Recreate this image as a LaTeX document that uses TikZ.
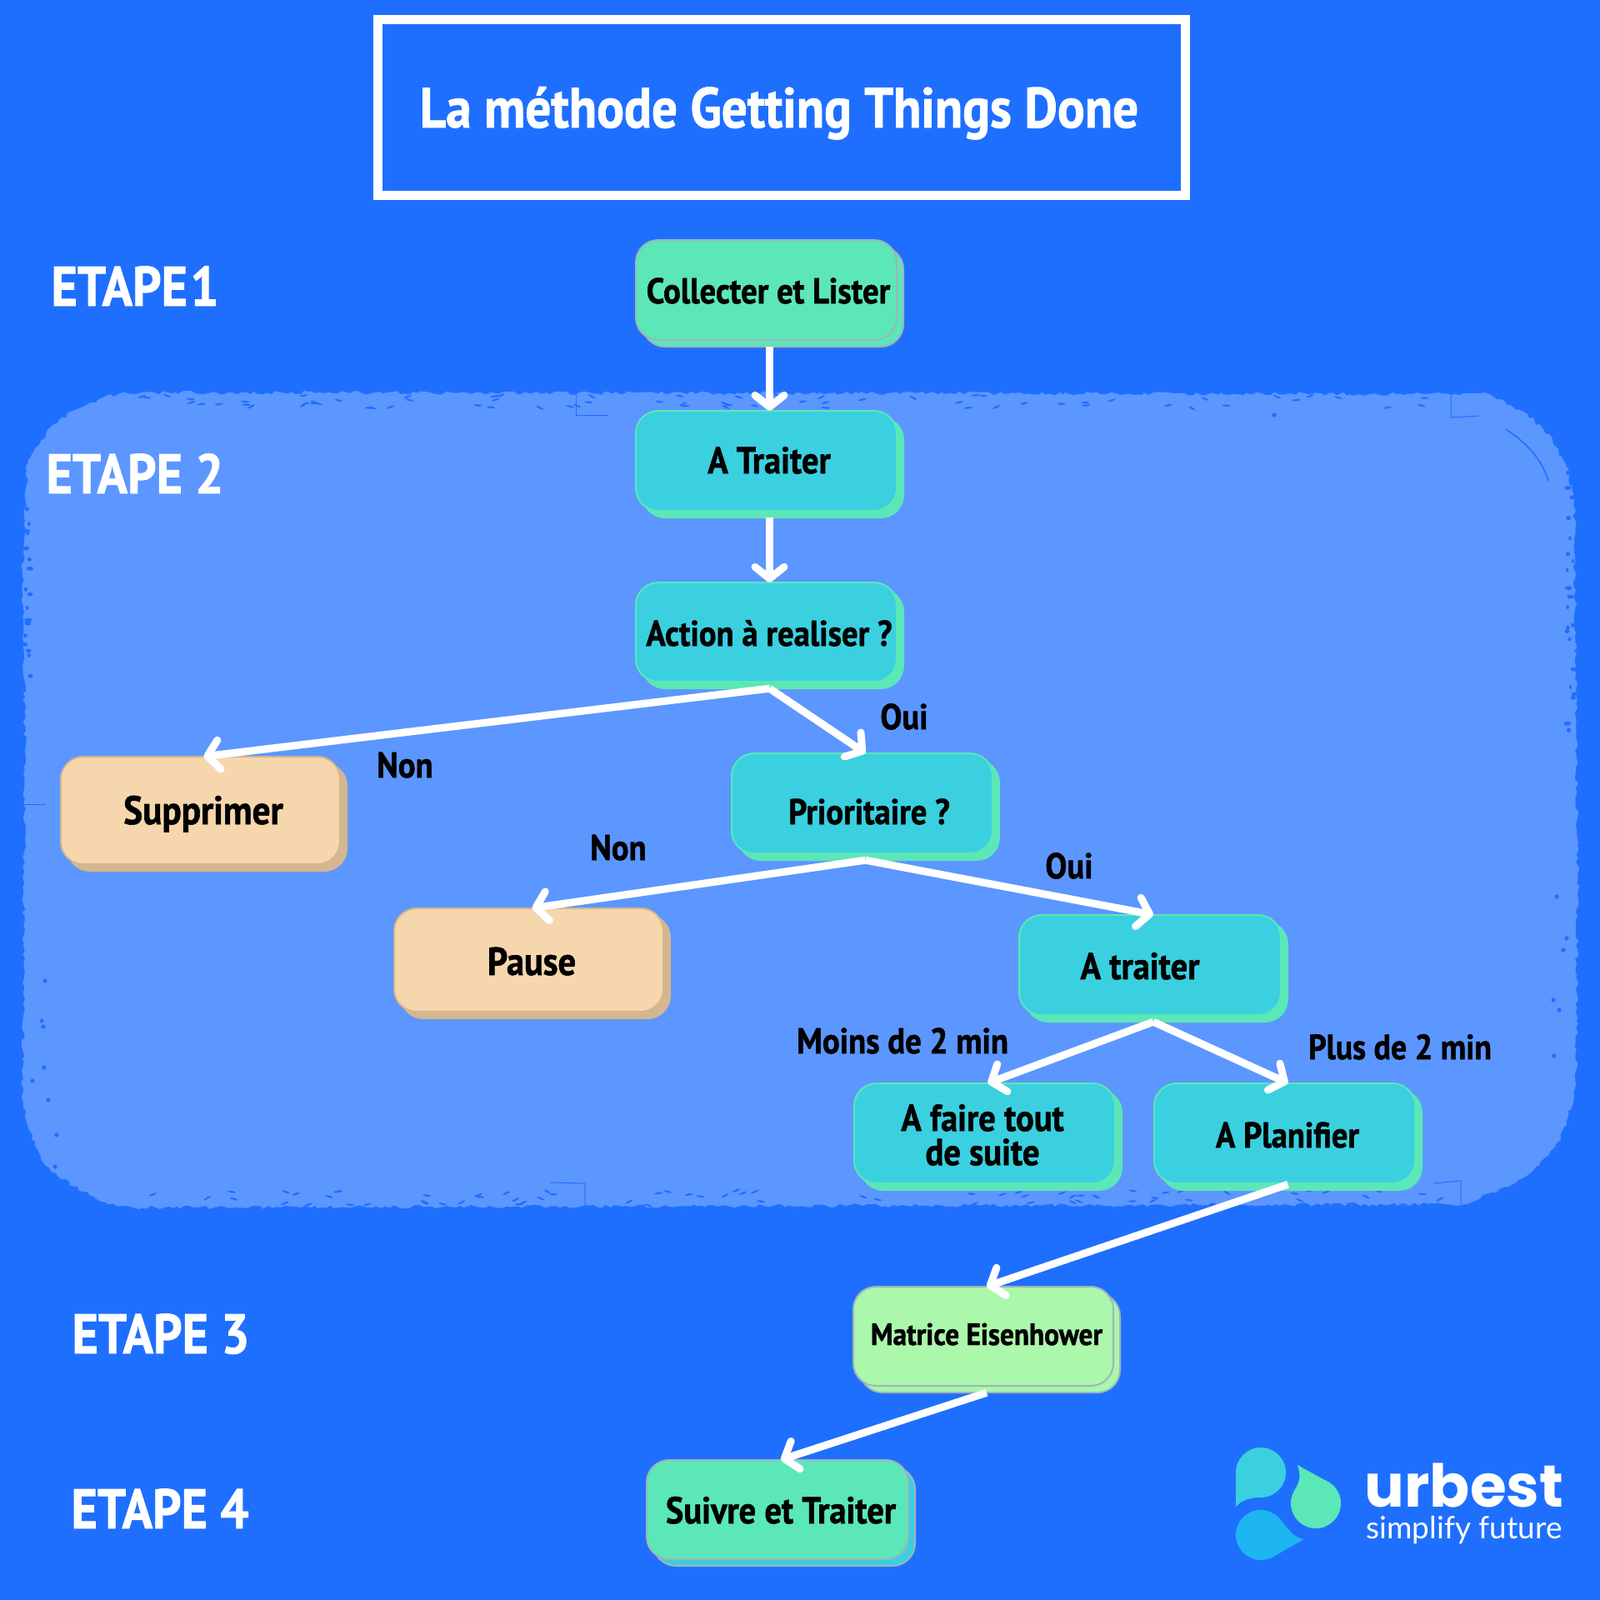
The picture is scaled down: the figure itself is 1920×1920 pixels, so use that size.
\documentclass[tikz,border=0pt]{standalone}
\usepackage{fontspec}
\usetikzlibrary{arrows.meta,fit,decorations.pathmorphing,calc}
\newfontfamily\hfont{PT Sans Bold}[FakeStretch=0.9,FakeBold=1.2]
\newfontfamily\logoA{Poppins}[UprightFont=*,BoldFont=* Bold]
\newfontfamily\logoB{Lato}
\definecolor{bgblue}{HTML}{1F6FFF}
\definecolor{blob}{HTML}{5C96FF}
\definecolor{mint}{HTML}{5BE7B7}
\definecolor{teal}{HTML}{3AD0E0}
\definecolor{peach}{HTML}{F6D6AC}
\definecolor{tan}{HTML}{D4B68F}
\definecolor{lime}{HTML}{ABF7AB}
\definecolor{edgegrey}{HTML}{9DB5BA}
\definecolor{skyb}{HTML}{1DB6F0}
\tikzset{
  x=1pt,y=-1pt,
  cardshape/.style={rectangle,inner sep=0pt,rounded corners=27pt,line width=2pt},
  teal back/.style={cardshape,draw=mint,fill=mint},
  teal front/.style={cardshape,draw=mint,fill=teal},
  peach back/.style={cardshape,draw=tan,fill=tan},
  peach front/.style={cardshape,draw=tan,fill=peach},
  mint back/.style={cardshape,draw=edgegrey,fill=mint},
  mint front/.style={cardshape,draw=edgegrey,fill=mint},
  lime back/.style={cardshape,draw=edgegrey,fill=lime},
  lime front/.style={cardshape,draw=edgegrey,fill=lime},
  sky back/.style={cardshape,draw=edgegrey,fill=teal},
  lab/.style={anchor=base,inner sep=0pt,text=black,font=\hfont\fontsize{#1}{#1}\selectfont},
  lab/.default=43,
  stage/.style={anchor=base,inner sep=0pt,text=white,font=\hfont\fontsize{67}{67}\selectfont},
  link/.style={draw=white,line width=9pt,-{Straight Barb[length=14pt,width=35pt,round,line width=9pt]}},
  speck/.style={fill=bgblue},
}
% name, x0, y0, x1, y1, back style, front style
\newcommand{\flowbox}[7]{%
  \node[#6,fit={({#2+8},{#3+8})({#4+8},{#5+8})}] (#1-back) {};
  \node[#7,fit={(#2,#3)(#4,#5)}] (#1-front) {};
  \node[inner sep=0pt,fit={(#2,#3)({#4+8},{#5+8})}] (#1) {};
}
\begin{document}
\begin{tikzpicture}
\useasboundingbox (0,0) rectangle (1920,1920);
\fill[bgblue] (0,0) rectangle (1920,1920);

% rough panel
\fill[blob,decorate,decoration={random steps,segment length=5pt,amplitude=2.2pt}]
  (150,471) -- (1787,473) -- (1833,497) -- (1863,527) -- (1880,560) -- (1889,600)
  -- (1893,1050) -- (1891,1300) -- (1880,1350) -- (1867,1375) -- (1843,1400) -- (1817,1420)
  -- (1757,1445) -- (160,1449) -- (130,1445) -- (100,1430) -- (70,1412) -- (52,1395)
  -- (42,1375) -- (30,1340) -- (27,1320) -- (30,900) -- (27,700) -- (33,557) -- (43,537)
  -- (63,510) -- (90,492) -- (123,477) -- cycle;
% worn specks along the panel rim
\pgfmathsetseed{7}
\foreach \i in {1,...,70}{
  \pgfmathsetmacro{\px}{170+rnd*1560}
  \pgfmathsetmacro{\py}{474+rnd*16}
  \pgfmathsetmacro{\pr}{rnd*60-30}
  \fill[speck,rotate around={\pr:(\px,\py)}] (\px,\py) ellipse [x radius=5pt,y radius=1.2pt];
  \pgfmathsetmacro{\qx}{170+rnd*1560}
  \pgfmathsetmacro{\qy}{1428+rnd*19}
  \pgfmathsetmacro{\qr}{rnd*60-30}
  \fill[speck,rotate around={\qr:(\qx,\qy)}] (\qx,\qy) ellipse [x radius=5pt,y radius=1.2pt];
}
\foreach \i in {1,...,22}{
  \pgfmathsetmacro{\px}{27+rnd*10}
  \pgfmathsetmacro{\py}{560+rnd*400}
  \pgfmathsetmacro{\pw}{1.5+rnd*3}
  \fill[speck] (\px,\py) ellipse [x radius=\pw pt,y radius=2.5pt];
  \pgfmathsetmacro{\qx}{1880+rnd*10}
  \pgfmathsetmacro{\qy}{565+rnd*330}
  \pgfmathsetmacro{\qw}{1.5+rnd*3}
  \fill[speck] (\qx,\qy) ellipse [x radius=\qw pt,y radius=2.5pt];
}
\foreach \cx/\cy in {54/1177,50/1225,52/1232,53/1281,39/1297,58/1320,68/1362,66/1400,1529/498,1868/1076,1880/1126,1876/1140,1865/1267,1864/1200,1871/1212}{
  \fill[speck] (\cx,\cy) circle [radius=2.6pt];
}
\draw[bgblue,line width=1pt] (1741,473) -- (1741,501) -- (1775,499);
\draw[bgblue,line width=1pt] (1753,1445) -- (1753,1417) -- (1720,1420);
\draw[bgblue,line width=1pt] (691,474) -- (691,498) -- (730,498);
\draw[bgblue,line width=1pt] (702,1447) -- (702,1420) -- (660,1419);
\draw[bgblue,line width=1pt] (55,965) -- (27,965);
\draw[bgblue,line width=1.5pt] (1807,515) .. controls (1830,530) and (1850,550) .. (1858,577);

% title
\node[draw=white,line width=11pt,inner sep=0pt,minimum width=969pt,minimum height=211pt] (titlebox) at (937.5,128.5) {};
\node[lab=68,text=white] (title) at (935,153) {La méthode Getting Things Done};

% stages
\node[stage] (etape1) at (162,367) {ETAPE\kern-12pt\ 1};
\node[stage] (etape2) at (162,592) {ETAPE 2};
\node[stage] (etape3) at (193,1624) {ETAPE 3};
\node[stage] (etape4) at (192,1834) {ETAPE 4};

% boxes
\flowbox{collect}{763}{288}{1076}{408}{mint back}{mint front}
\flowbox{traiterA}{763}{493}{1076}{613}{teal back}{teal front}
\flowbox{action}{763}{699}{1076}{818}{teal back}{teal front}
\flowbox{prio}{878}{904}{1191}{1024}{teal back}{teal front}
\flowbox{suppr}{73}{908}{408}{1037}{peach back}{peach front}
\flowbox{pause}{473}{1090}{796}{1214}{peach back}{peach front}
\flowbox{traiterB}{1223}{1098}{1537}{1218}{teal back}{teal front}
\flowbox{faire}{1025}{1300}{1338}{1420}{teal back}{teal front}
\flowbox{planif}{1385}{1300}{1698}{1420}{teal back}{teal front}
\flowbox{matrice}{1024}{1544}{1336}{1663}{lime back}{lime front}
\flowbox{suivre}{776}{1752}{1090}{1871}{sky back}{mint front}

% box texts
\node[lab=43] (collect-t) at (922,364) {Collecter et Lister};
\node[lab=45] (traiterA-t) at (923,568) {A Traiter};
\node[lab=43] (action-t) at (923,775) {Action à realiser ?};
\node[lab=48] (suppr-t) at (244,989) {Supprimer};
\node[lab=43] (prio-t) at (1043,989) {Prioritaire ?};
\node[lab=47] (pause-t) at (638,1170) {Pause};
\node[lab=45] (traiterB-t) at (1368,1175) {A traiter};
\node[lab=45,anchor=center,align=center] (faire-t) at (1179,1362) {A faire tout\\[-4pt]de suite};
\node[lab=43] (planif-t) at (1545,1377) {A Planifier};
\node[lab=37] (matrice-t) at (1184,1614) {Matrice Eisenhower};
\node[lab=45] (suivre-t) at (937,1828) {Suivre et Traiter};

% connector labels
\node[lab=43] (non1) at (486,933) {Non};
\node[lab=43] (non2) at (742,1032) {Non};
\node[lab=43] (oui1) at (1085,875) {Oui};
\node[lab=43] (oui2) at (1283,1054) {Oui};
\node[lab=43] (moins) at (1083,1264) {Moins de 2 min};
\node[lab=42] (plus) at (1680,1271) {Plus de 2 min};

% connectors
\draw[link] (collect.south) -- (traiterA.north);
\draw[link] (traiterA.south) -- (action.north);
\draw[link] (action.south) -- (suppr.north);
\draw[link] (action.south) -- (prio.north);
\draw[link] (prio.south) -- (pause.north);
\draw[link] (prio.south) -- (traiterB.north);
\draw[link] (traiterB.south) -- (faire.north);
\draw[link] (traiterB.south) -- (planif.north);
\draw[link] ($(planif.south)+(0,-7)$) -- (matrice.north);
\draw[link] (matrice.south) -- (suivre.north);

% logo
\fill[teal] (1513,1767) circle [radius=30pt];
\fill[teal] (1483,1767) -- (1483,1808) .. controls (1490,1800) and (1500,1797) .. (1513,1797) -- (1513,1767) -- cycle;
\fill[mint] (1579,1804) circle [radius=30pt];
\fill[mint] (1557,1758) -- (1593,1778) -- (1579,1804) -- (1553,1789) .. controls (1562,1775) and (1560,1768) .. (1557,1758) -- cycle;
\fill[skyb] (1513,1842) circle [radius=30pt];
\fill[skyb] (1565,1847) -- (1528,1868) -- (1513,1842) -- (1535,1822) .. controls (1545,1832) and (1550,1845) .. (1565,1847) -- cycle;
\node[anchor=base,inner sep=0pt,text=white,font=\logoA\bfseries\fontsize{71}{71}\selectfont] (urbest) at (1757,1808) {urbest};
\node[anchor=base,inner sep=0pt,text=white,font=\logoB\fontsize{37}{37}\selectfont] (simplify) at (1757,1846) {simplify future};
\end{tikzpicture}
\end{document}
